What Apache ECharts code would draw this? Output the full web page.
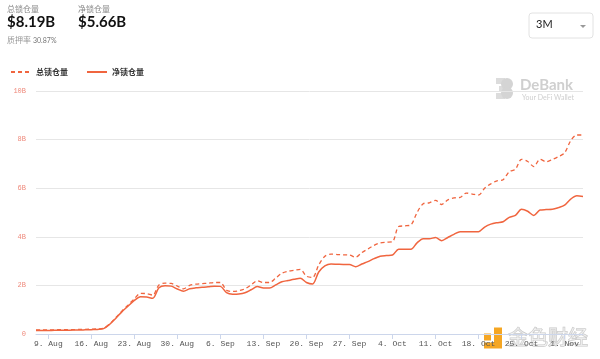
<!DOCTYPE html>
<html><head><meta charset="utf-8">
<script src="https://cdn.jsdelivr.net/npm/echarts@6/dist/echarts.min.js"></script>
<style>html,body{margin:0;padding:0;background:#fff}#c{width:600px;height:359px}</style>
</head><body><div id="c"></div>
<script>
// Daily dates from 2021-08-07 to 2021-11-04
const startDate = '2021-08-07';
const dayCount = 90;
const totalTVL = [0.17,0.17,0.17,0.17,0.18,0.18,0.18,0.19,0.19,0.20,0.21,0.24,0.42,0.68,0.95,1.20,1.45,1.67,1.66,1.60,
  2.02,2.09,2.08,1.97,1.86,2.00,2.05,2.07,2.09,2.12,2.12,1.80,1.75,1.78,1.86,2.02,2.19,2.12,2.12,2.30,
  2.50,2.58,2.62,2.66,2.38,2.33,2.84,3.20,3.29,3.27,3.26,3.25,3.16,3.35,3.50,3.65,3.75,3.78,3.80,4.42,
  4.45,4.49,5.00,5.36,5.40,5.50,5.33,5.52,5.60,5.62,5.80,5.76,5.72,6.00,6.18,6.30,6.35,6.68,6.78,7.19,
  7.10,6.89,7.19,7.09,7.18,7.30,7.45,7.95,8.19,8.19];
const netTVL = [0.14,0.14,0.14,0.15,0.15,0.15,0.16,0.16,0.17,0.18,0.19,0.22,0.40,0.65,0.92,1.15,1.38,1.53,1.52,1.47,
  1.90,1.99,1.97,1.85,1.76,1.86,1.90,1.92,1.94,1.97,1.96,1.70,1.64,1.65,1.70,1.82,1.95,1.89,1.89,2.02,
  2.15,2.20,2.25,2.29,2.12,2.06,2.55,2.80,2.88,2.87,2.86,2.86,2.77,2.88,2.98,3.10,3.20,3.23,3.25,3.49,
  3.49,3.49,3.75,3.92,3.92,3.97,3.84,3.97,4.10,4.21,4.21,4.21,4.21,4.40,4.52,4.58,4.62,4.80,4.88,5.13,
  5.05,4.88,5.10,5.12,5.13,5.20,5.30,5.55,5.69,5.66];
const yTicks = ['0','2B','4B','6B','8B','10B'];
const seriesNames = ['总锁仓量','净锁仓量'];
const months = ['Jan','Feb','Mar','Apr','May','Jun','Jul','Aug','Sep','Oct','Nov','Dec'];

const dates = [];
const t0 = Date.UTC(2021,7,7);
for (let i=0;i<dayCount;i++){ dates.push(new Date(t0+i*86400000)); }
const cats = dates.map(d=>d.toISOString().slice(0,10));
const isMonday = (i)=> dates[i].getUTCDay()===1;
const lineColor = '#f0653f';

const chart = echarts.init(document.getElementById('c'));
chart.setOption({
  animation:false,
  grid:{left:36,right:17,top:91,bottom:25},
  legend:{
    left:5, top:63, itemWidth:20, itemHeight:8, itemGap:18,
    itemStyle:{opacity:0},
    textStyle:{fontSize:8,color:'#333',fontWeight:'bold',fontFamily:'Noto Sans CJK SC'},
    data:[{name:seriesNames[0]},{name:seriesNames[1]}]
  },
  xAxis:{
    type:'category', data:cats, boundaryGap:false,
    axisLine:{lineStyle:{color:'#ccd6eb'}},
    axisTick:{show:true,length:5,interval:(i)=>isMonday(i),lineStyle:{color:'#ccd6eb'}},
    axisLabel:{interval:(i)=>isMonday(i),fontSize:8,color:'#555',fontFamily:'Liberation Mono',margin:6,
      formatter:(v)=>{const d=new Date(v+'T00:00:00Z');return d.getUTCDate()+'. '+months[d.getUTCMonth()];}},
    splitLine:{show:false}
  },
  yAxis:{
    type:'value', min:0, max:10, interval:2,
    axisLine:{show:false}, axisTick:{show:false},
    axisLabel:{fontSize:7,color:'#ef8a7c',fontFamily:'Liberation Mono',margin:10,
      formatter:(v)=>yTicks[Math.round(v/2)]},
    splitLine:{lineStyle:{color:'#e6e6e6',width:1}}
  },
  series:[
    {name:seriesNames[0],type:'line',data:totalTVL,smooth:0.3,symbol:'none',
      lineStyle:{color:lineColor,width:1.3,type:[4,3]},itemStyle:{color:lineColor}},
    {name:seriesNames[1],type:'line',data:netTVL,smooth:0.3,symbol:'none',
      lineStyle:{color:lineColor,width:1.5},itemStyle:{color:lineColor}}
  ],
  graphic:[
    {type:'text',left:7,top:5,style:{text:'总锁仓量',fontSize:8,fill:'#888',fontFamily:'Noto Sans CJK SC'}},
    {type:'text',left:7,top:15,style:{text:'$8.19B',fontSize:15,fontWeight:'bold',fill:'#111',fontFamily:'Lato'}},
    {type:'text',left:78,top:5,style:{text:'净锁仓量',fontSize:8,fill:'#888',fontFamily:'Noto Sans CJK SC'}},
    {type:'text',left:78,top:15,style:{text:'$5.66B',fontSize:15,fontWeight:'bold',fill:'#111',fontFamily:'Lato'}},
    {type:'text',left:7,top:36,style:{text:'质押率',fontSize:8,fill:'#999',fontFamily:'Noto Sans CJK SC'}},
    {type:'text',left:33,top:37,style:{text:'30.87%',fontSize:7,fill:'#777',fontFamily:'Lato'}},
    {type:'rect',shape:{x:529,y:13,width:64,height:25,r:3},style:{fill:'#fff',stroke:'#e2e2e2',lineWidth:1}},
    {type:'text',left:536,top:19,style:{text:'3M',fontSize:11,fill:'#222',fontFamily:'Lato'}},
    {type:'polygon',shape:{points:[[580,25],[586,25],[583,28]]},style:{fill:'#999'}},
    // DeBank watermark
    {type:'group',left:496,top:78,children:[
      {type:'rect',shape:{x:0,y:0,width:9,height:6},style:{fill:'#dcdcdc'}},
      {type:'rect',shape:{x:3,y:8,width:6,height:5},style:{fill:'#dcdcdc'}},
      {type:'rect',shape:{x:0,y:15,width:9,height:6},style:{fill:'#dcdcdc'}},
      {type:'circle',shape:{cx:11,cy:6,r:6},style:{fill:'#d4d4d4'}},
      {type:'circle',shape:{cx:11,cy:15,r:6},style:{fill:'#d4d4d4'}},
      {type:'text',x:24,y:0,style:{text:'DeBank',fontSize:15,fontWeight:'bold',fill:'#cfcfcf',fontFamily:'Lato'}},
      {type:'text',x:26,y:16,style:{text:'Your DeFi Wallet',fontSize:7,fill:'#cfcfcf',fontFamily:'Lato'}}
    ]},
    // 金色财经 watermark
    {type:'group',left:484,top:327,children:[
      {type:'rect',shape:{x:0,y:6,width:7,height:7},style:{fill:'#f5a623'}},
      {type:'rect',shape:{x:10,y:0,width:8,height:18},style:{fill:'#f5a623'}},
      {type:'rect',shape:{x:0,y:15,width:18,height:6},style:{fill:'#f5a623'}},
      {type:'text',x:24,y:0,style:{text:'金色财经',fontSize:20,fill:'rgba(255,255,255,0.4)',stroke:'#c8c8c8',lineWidth:1,fontFamily:'Noto Sans CJK SC'}}
    ]}
  ]
});
</script></body></html>
